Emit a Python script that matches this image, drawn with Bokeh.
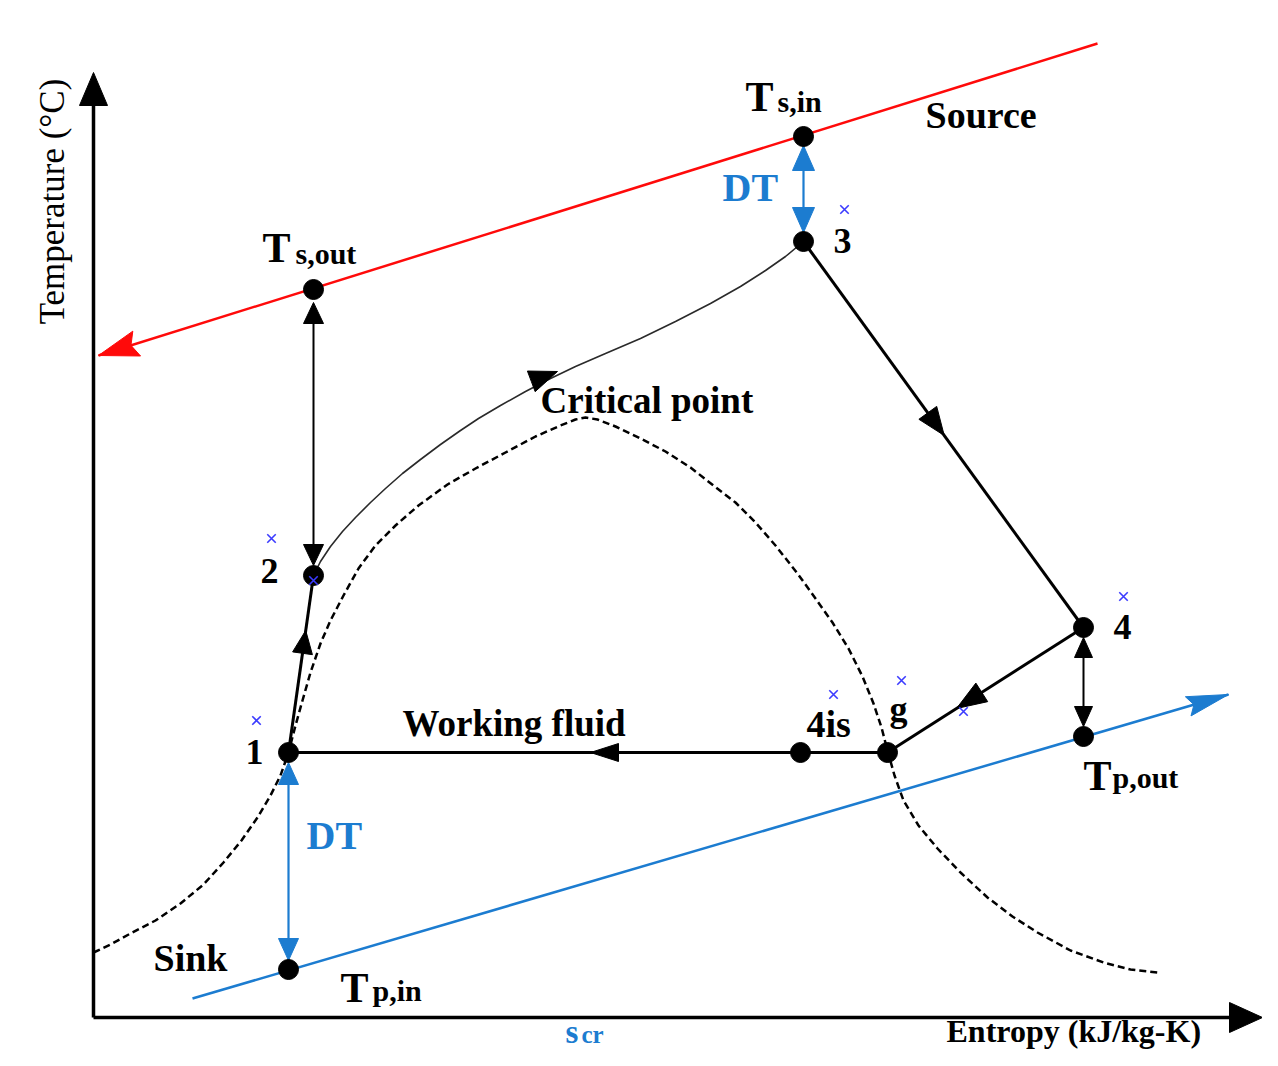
import numpy as np
from bokeh.plotting import figure
from bokeh.models import Range1d
from bokeh.core.properties import value
from bokeh.embed import file_html
from bokeh.resources import INLINE

# ---------------- schematic data (entropy s, temperature T, arbitrary units) ----------------
state_names = ["1", "2", "3", "4", "g", "4is"]
state_s = [195, 220, 710, 990, 794, 707]
state_T = [265, 442, 776, 390, 265, 265]

source_s = [1004, 5]          # heat source line (flows right -> left)
source_T = [974, 662]
source_pts_s = [710, 220]     # Ts,in, Ts,out
source_pts_T = [881, 728]

sink_s = [99, 1135]           # heat sink line (flows left -> right)
sink_T = [19, 323]
sink_pts_s = [195, 990]       # Tp,in, Tp,out
sink_pts_T = [48, 281]

dome_s = [0, 17, 37, 62, 87, 110, 130, 148, 164, 177, 187, 195,
          202, 209, 217, 227, 237, 250, 265, 282, 302, 325, 354, 382, 412, 442, 467, 482, 492,
          504, 522, 547, 572, 597, 620, 642, 662, 682, 704, 722, 739, 755, 769, 780, 788, 794,
          801, 810, 825, 844, 867, 894, 919, 944, 977, 1010, 1037, 1064]
dome_T = [65, 73, 84, 97, 114, 133, 155, 177, 200, 222, 242, 265,
          292, 317, 345, 374, 397, 422, 449, 472, 492, 512, 533, 549, 565, 581, 592, 598, 600,
          598, 591, 579, 566, 550, 532, 515, 495, 472, 444, 419, 395, 369, 341, 314, 290, 267,
          242, 217, 192, 169, 145, 120, 101, 85, 67, 55, 48, 45]

heating_s = [220, 227, 237, 249, 262, 277, 292, 309, 327, 347, 367, 385, 407, 432, 457, 482,
             512, 547, 582, 617, 647, 672, 692, 710]
heating_T = [442, 456, 471, 486, 500, 515, 529, 544, 558, 573, 587, 599, 612, 626, 639, 651,
             664, 679, 696, 714, 731, 747, 761, 776]

cross_s = [178, 163, 751, 1030, 808, 740, 870, 220]
cross_T = [479, 297, 808, 421, 337, 323, 306, 437]

axis_T_max = 945
axis_s_max = 1169

BLACK = "#000000"
RED = "#ff0a0a"
BLUE = "#1c7cd0"
XBLUE = "#3b3bff"
FONT = value("Liberation Serif")

p = figure(width=1262, height=1050, x_range=Range1d(-93, 1169), y_range=Range1d(-33, 1017),
           output_backend="svg", toolbar_location=None, x_axis_type=None, y_axis_type=None,
           min_border=0, outline_line_color=None, background_fill_color="white",
           border_fill_color="white")
p.xgrid.visible = False
p.ygrid.visible = False

heads_x, heads_y, heads_c = [], [], []


def head(tip_s, tip_T, ds, dT, length, width, color, notch=0.0):
    d = np.hypot(ds, dT)
    ux, uy = ds / d, dT / d
    bx, by = tip_s - ux * length, tip_T - uy * length
    px, py = -uy, ux
    xs = [tip_s, bx + px * width / 2, bx + ux * notch, bx - px * width / 2]
    ys = [tip_T, by + py * width / 2, by + uy * notch, by - py * width / 2]
    heads_x.append(xs)
    heads_y.append(ys)
    heads_c.append(color)


# ---------------- axes ----------------
p.line([0, 0], [0, axis_T_max - 30], line_color=BLACK, line_width=3.5)
p.line([0, axis_s_max - 30], [0, 0], line_color=BLACK, line_width=3.5)
head(0, axis_T_max, 0, 1, 33, 28, BLACK)
head(axis_s_max, 0, 1, 0, 33, 30, BLACK)

# ---------------- saturation dome ----------------
p.line(dome_s, dome_T, line_color=BLACK, line_width=2.5, line_dash="7 4", line_join="round")

# ---------------- source / sink ----------------
p.line(source_s, source_T, line_color=RED, line_width=2.5)
head(source_s[1], source_T[1], source_s[1] - source_s[0], source_T[1] - source_T[0], 40, 26, RED, notch=6)
p.line(sink_s, sink_T, line_color=BLUE, line_width=2.5)
head(sink_s[1], sink_T[1], sink_s[1] - sink_s[0], sink_T[1] - sink_T[0], 42, 20, BLUE, notch=6)

# ---------------- cycle ----------------
S = dict(zip(state_names, zip(state_s, state_T)))
p.line([S["1"][0], S["2"][0]], [S["1"][1], S["2"][1]], line_color=BLACK, line_width=3)
p.line(heating_s, heating_T, line_color="#2a2a2a", line_width=1.6, line_join="round")
p.line([S["3"][0], S["4"][0]], [S["3"][1], S["4"][1]], line_color=BLACK, line_width=3)
p.line([S["4"][0], S["g"][0]], [S["4"][1], S["g"][1]], line_color=BLACK, line_width=3)
p.line([S["g"][0], S["1"][0]], [S["g"][1], S["1"][1]], line_color=BLACK, line_width=3)


def along(a, b, T):
    (s0, T0), (s1, T1) = a, b
    return s0 + (s1 - s0) * (T - T0) / (T1 - T0), T


t = along(S["1"], S["2"], 387)
head(t[0], t[1], S["2"][0] - S["1"][0], S["2"][1] - S["1"][1], 23, 20, BLACK)
head(464, 646, 40, 15, 28, 22, BLACK)
t = along(S["3"], S["4"], 582)
head(t[0], t[1], S["4"][0] - S["3"][0], S["4"][1] - S["3"][1], 28, 22, BLACK)
t = along(S["4"], S["g"], 309)
head(t[0], t[1], S["g"][0] - S["4"][0], S["g"][1] - S["4"][1], 30, 22, BLACK)
head(497, S["g"][1], -1, 0, 28, 18, BLACK)


# ---------------- double arrows (pinch DT) ----------------
def dbl(s, T_top, T_bot, color, lw, length, width):
    p.line([s, s], [T_top - length + 2, T_bot + length - 2], line_color=color, line_width=lw)
    head(s, T_top, 0, 1, length, width, color)
    head(s, T_bot, 0, -1, length, width, color)


dbl(source_pts_s[0], source_pts_T[0] - 9, S["3"][1] + 9, BLUE, 2.2, 25, 22)
dbl(S["1"][0], S["1"][1] - 10, sink_pts_T[0] + 9, BLUE, 2.2, 22, 20)
dbl(S["2"][0], source_pts_T[1] - 13, S["2"][1] + 10, BLACK, 2.0, 21, 20)
dbl(S["4"][0], S["4"][1] - 10, sink_pts_T[1] + 10, BLACK, 2.0, 20, 18)

p.patches(heads_x, heads_y, fill_color=heads_c, line_color=heads_c, line_width=1)

# ---------------- points ----------------
p.scatter(state_s, state_T, size=20, fill_color=BLACK, line_color=BLACK)
p.scatter(source_pts_s, source_pts_T, size=20, fill_color=BLACK, line_color=BLACK)
p.scatter(sink_pts_s, sink_pts_T, size=20, fill_color=BLACK, line_color=BLACK)
p.scatter(cross_s, cross_T, marker="x", size=12, line_color=XBLUE, line_width=1.6)

# ---------------- labels ----------------
labels = [
    ("T", 652, 921, 42, BLACK), ("s,in", 684, 916, 30, BLACK),
    ("Source", 832, 903, 38, BLACK),
    ("DT", 629, 830, 40, BLUE),
    ("3", 740, 777, 36, BLACK),
    ("T", 169, 770, 42, BLACK), ("s,out", 202, 764, 30, BLACK),
    ("Critical point", 447, 617, 37, BLACK),
    ("2", 167, 447, 36, BLACK),
    ("1", 152, 266, 36, BLACK),
    ("Working fluid", 309, 294, 37, BLACK),
    ("4is", 713, 294, 38, BLACK),
    ("g", 796, 309, 36, BLACK),
    ("4", 1020, 391, 36, BLACK),
    ("T", 990, 242, 42, BLACK), ("p,out", 1019, 240, 30, BLACK),
    ("DT", 213, 182, 40, BLUE),
    ("Sink", 60, 60, 38, BLACK),
    ("T", 247, 30, 42, BLACK), ("p,in", 279, 27, 30, BLACK),
    ("s", 472, -14, 33, BLUE), ("cr", 488, -17, 25, BLUE),
    ("Entropy (kJ/kg-K)", 853, -13, 32, BLACK),
]
for txt, x, y, sz, col in labels:
    p.text(x=[x], y=[y], text=[txt], text_font=FONT, text_font_size=value(f"{sz}px"),
           text_font_style="bold", text_color=col, text_align="left",
           text_baseline="alphabetic")

p.text(x=[-41], y=[816], text=["Temperature (°C)"], angle=np.pi / 2, text_font=FONT,
       text_font_size=value("35px"), text_font_style="normal", text_color=BLACK,
       text_align="center", text_baseline="middle")

open("out.html", "w").write(file_html(p, INLINE))
